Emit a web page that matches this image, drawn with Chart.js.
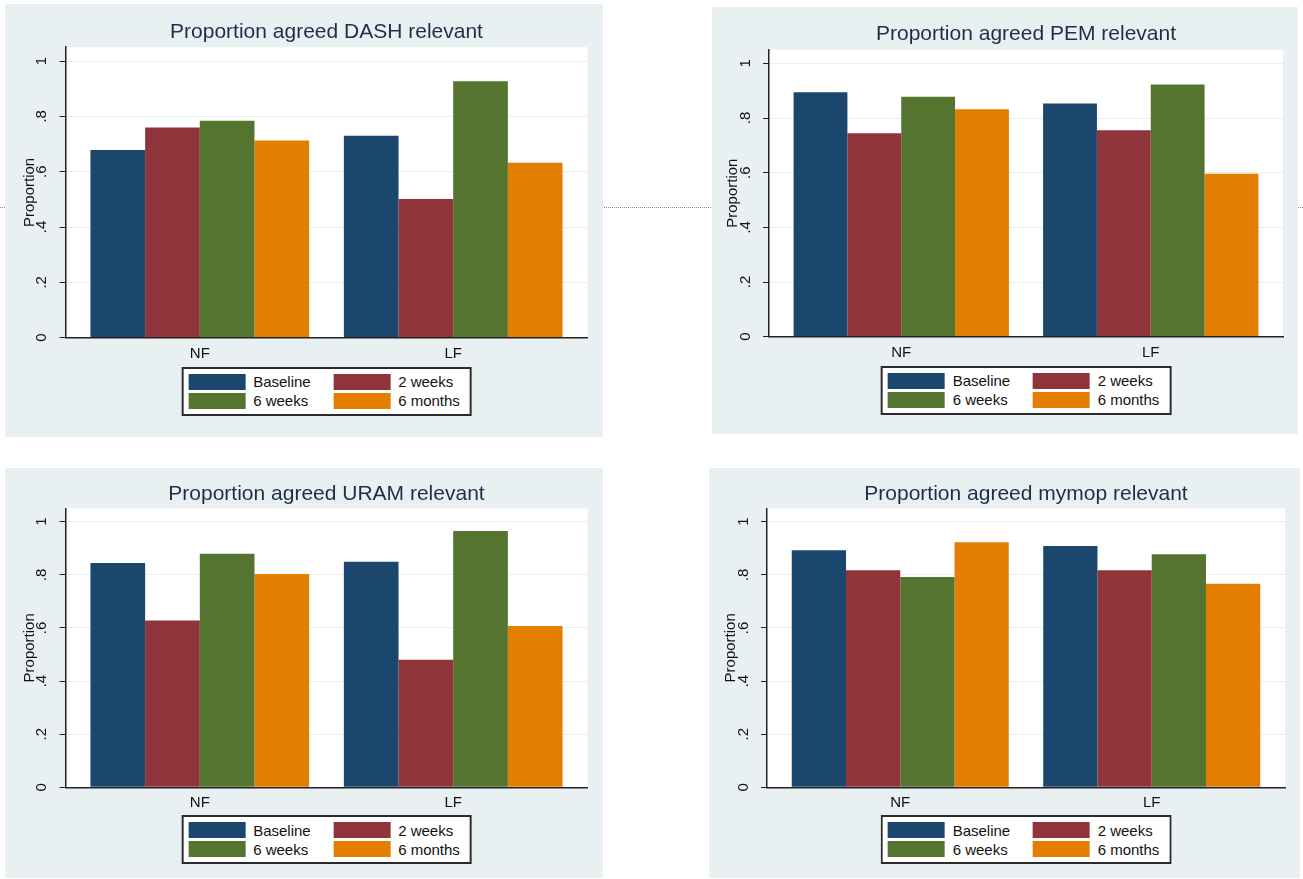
<!DOCTYPE html>
<html>
<head>
<meta charset="utf-8">
<script src="https://cdn.jsdelivr.net/npm/chart.js@4.4.1/dist/chart.umd.min.js"></script>
<style>
  body { margin: 0; background: #fff; width: 1303px; height: 879px; position: relative; overflow: hidden; font-family: 'Liberation Sans', Arial, sans-serif; }
  .cut { position: absolute; left: 0; top: 207px; width: 1303px; border-top: 1px dotted #8a8a8a; }
  .panel { position: absolute; background: #e9f0f2; }
  .panel canvas { position: absolute; left: 0; top: 0; }
  .title { position: absolute; transform: translateX(-50%); white-space: nowrap; font-size: 21px; line-height: 24px; color: #1e2d4a; }
  .legend { position: absolute; transform: translateX(-50%); background: #fff; border: 2px solid #2b2b2b; padding: 5px 10px 5px 5px;
            display: grid; grid-template-columns: 145px auto; row-gap: 3px; font-size: 15px; color: #111; }
  .item { display: flex; align-items: center; height: 16px; white-space: nowrap; }
  .sw { width: 57px; height: 16px; margin-right: 8px; }
</style>
</head>
<body>
<div class="cut"></div>
<div id="charts"></div>
<script>
// categories, series and tick labels
const categories = ['NF', 'LF'];
const seriesLabels = ['Baseline', '2 weeks', '6 weeks', '6 months'];
const seriesColors = ['#1b466e', '#8f343b', '#55742f', '#e37e00'];
const yTickLabels = ['0', '.2', '.4', '.6', '.8', '1'];
const chartTitles = [
    'Proportion agreed DASH relevant',
    'Proportion agreed PEM relevant',
    'Proportion agreed URAM relevant',
    'Proportion agreed mymop relevant'
];

// values (NF, LF)
const dashBaseline = [0.678, 0.730];
const dashTwoWeeks = [0.760, 0.501];
const dashSixWeeks = [0.784, 0.927];
const dashSixMonths = [0.713, 0.632];

const pemBaseline = [0.894, 0.853];
const pemTwoWeeks = [0.744, 0.755];
const pemSixWeeks = [0.878, 0.923];
const pemSixMonths = [0.832, 0.596];

const uramBaseline = [0.844, 0.849];
const uramTwoWeeks = [0.628, 0.480];
const uramSixWeeks = [0.879, 0.965];
const uramSixMonths = [0.803, 0.607];

const mymopBaseline = [0.892, 0.908];
const mymopTwoWeeks = [0.817, 0.817];
const mymopSixWeeks = [0.792, 0.877];
const mymopSixMonths = [0.923, 0.766];

// panel placement on the page (px) and plot area inside each panel
const panels = [
    { left: 5, top: 4, w: 598, h: 433, area: { l: 60.5, r: 582.5, t: 43.2, b: 333.7 }, titleY: 26.7, legendTop: 362.7,
      series: [dashBaseline, dashTwoWeeks, dashSixWeeks, dashSixMonths] },
    { left: 712, top: 7, w: 586, h: 427, area: { l: 57, r: 571, t: 42.7, b: 329.7 }, titleY: 26.3, legendTop: 358.7,
      series: [pemBaseline, pemTwoWeeks, pemSixWeeks, pemSixMonths] },
    { left: 5, top: 468, w: 598, h: 410, area: { l: 60.5, r: 582.5, t: 40.4, b: 319.3 }, titleY: 25.3, legendTop: 347,
      series: [uramBaseline, uramTwoWeeks, uramSixWeeks, uramSixMonths] },
    { left: 709, top: 468, w: 591, h: 410, area: { l: 58, r: 576, t: 40.4, b: 319.3 }, titleY: 25.3, legendTop: 347,
      series: [mymopBaseline, mymopTwoWeeks, mymopSixWeeks, mymopSixMonths] }
];

const Y_AXIS_W = 50;
const X_AXIS_H = 25;
const FONT = "'Liberation Sans', Arial, sans-serif";

// white plot region like Stata's plotregion
const plotBackground = {
    id: 'plotBackground',
    beforeDraw(chart) {
        const { ctx, chartArea } = chart;
        ctx.save();
        ctx.fillStyle = '#ffffff';
        ctx.fillRect(chartArea.left, chartArea.top, chartArea.right - chartArea.left, chartArea.bottom - chartArea.top);
        ctx.restore();
    }
};

function buildPanel(p, idx) {
    const box = document.createElement('div');
    box.className = 'panel';
    box.style.left = p.left + 'px';
    box.style.top = p.top + 'px';
    box.style.width = p.w + 'px';
    box.style.height = p.h + 'px';

    const canvas = document.createElement('canvas');
    canvas.width = p.w;
    canvas.height = p.h;
    box.appendChild(canvas);

    const centerX = (p.area.l + p.area.r) / 2;

    const title = document.createElement('div');
    title.className = 'title';
    title.textContent = chartTitles[idx];
    title.style.left = centerX + 'px';
    title.style.top = (p.titleY - 12) + 'px';
    box.appendChild(title);

    const legend = document.createElement('div');
    legend.className = 'legend';
    legend.style.left = centerX + 'px';
    legend.style.top = p.legendTop + 'px';
    legend.innerHTML = seriesLabels.map((s, i) =>
        `<div class="item"><span class="sw" style="background:${seriesColors[i]}"></span><span>${s}</span></div>`
    ).join('');
    box.appendChild(legend);

    document.getElementById('charts').appendChild(box);

    new Chart(canvas.getContext('2d'), {
        type: 'bar',
        data: {
            datasets: p.series.map((vals, i) => ({
                label: seriesLabels[i],
                data: vals.map((v, k) => ({ x: k, y: v })),
                backgroundColor: seriesColors[i],
                borderWidth: 0,
                barPercentage: 1,
                categoryPercentage: 0.863
            }))
        },
        options: {
            responsive: false,
            animation: false,
            layout: {
                padding: {
                    left: p.area.l - Y_AXIS_W,
                    right: p.w - p.area.r,
                    top: p.area.t,
                    bottom: p.h - p.area.b - X_AXIS_H
                }
            },
            plugins: {
                legend: { display: false },
                title: { display: false },
                tooltip: { enabled: false }
            },
            scales: {
                x: {
                    type: 'linear',
                    min: -0.53,
                    max: 1.53,
                    offset: false,
                    afterFit(scale) { scale.height = X_AXIS_H; },
                    grid: { display: false, drawTicks: false, tickLength: 0 },
                    border: { display: true, color: '#222', width: 1.5, z: 1 },
                    ticks: {
                        stepSize: 1,
                        includeBounds: false,
                        autoSkip: false,
                        padding: 7,
                        color: '#111',
                        font: { family: FONT, size: 15 },
                        callback: (v) => categories[v] ?? ''
                    }
                },
                y: {
                    min: 0,
                    max: 1.05,
                    afterFit(scale) { scale.width = Y_AXIS_W; },
                    grid: { color: '#e8eff1', lineWidth: 1, tickColor: '#222', tickLength: 6 },
                    border: { display: true, color: '#222', width: 1.5, z: 1 },
                    ticks: {
                        stepSize: 0.2,
                        includeBounds: false,
                        minRotation: 90,
                        maxRotation: 90,
                        crossAlign: 'center',
                        padding: 11,
                        color: '#111',
                        font: { family: FONT, size: 15 },
                        callback: (v, i) => yTickLabels[i]
                    },
                    title: {
                        display: true,
                        text: 'Proportion',
                        color: '#111',
                        padding: { top: 5, bottom: 0 },
                        font: { family: FONT, size: 15 }
                    }
                }
            }
        },
        plugins: [plotBackground]
    });
}

document.addEventListener('DOMContentLoaded', function() {
    panels.forEach(buildPanel);
});
</script>
</body>
</html>
